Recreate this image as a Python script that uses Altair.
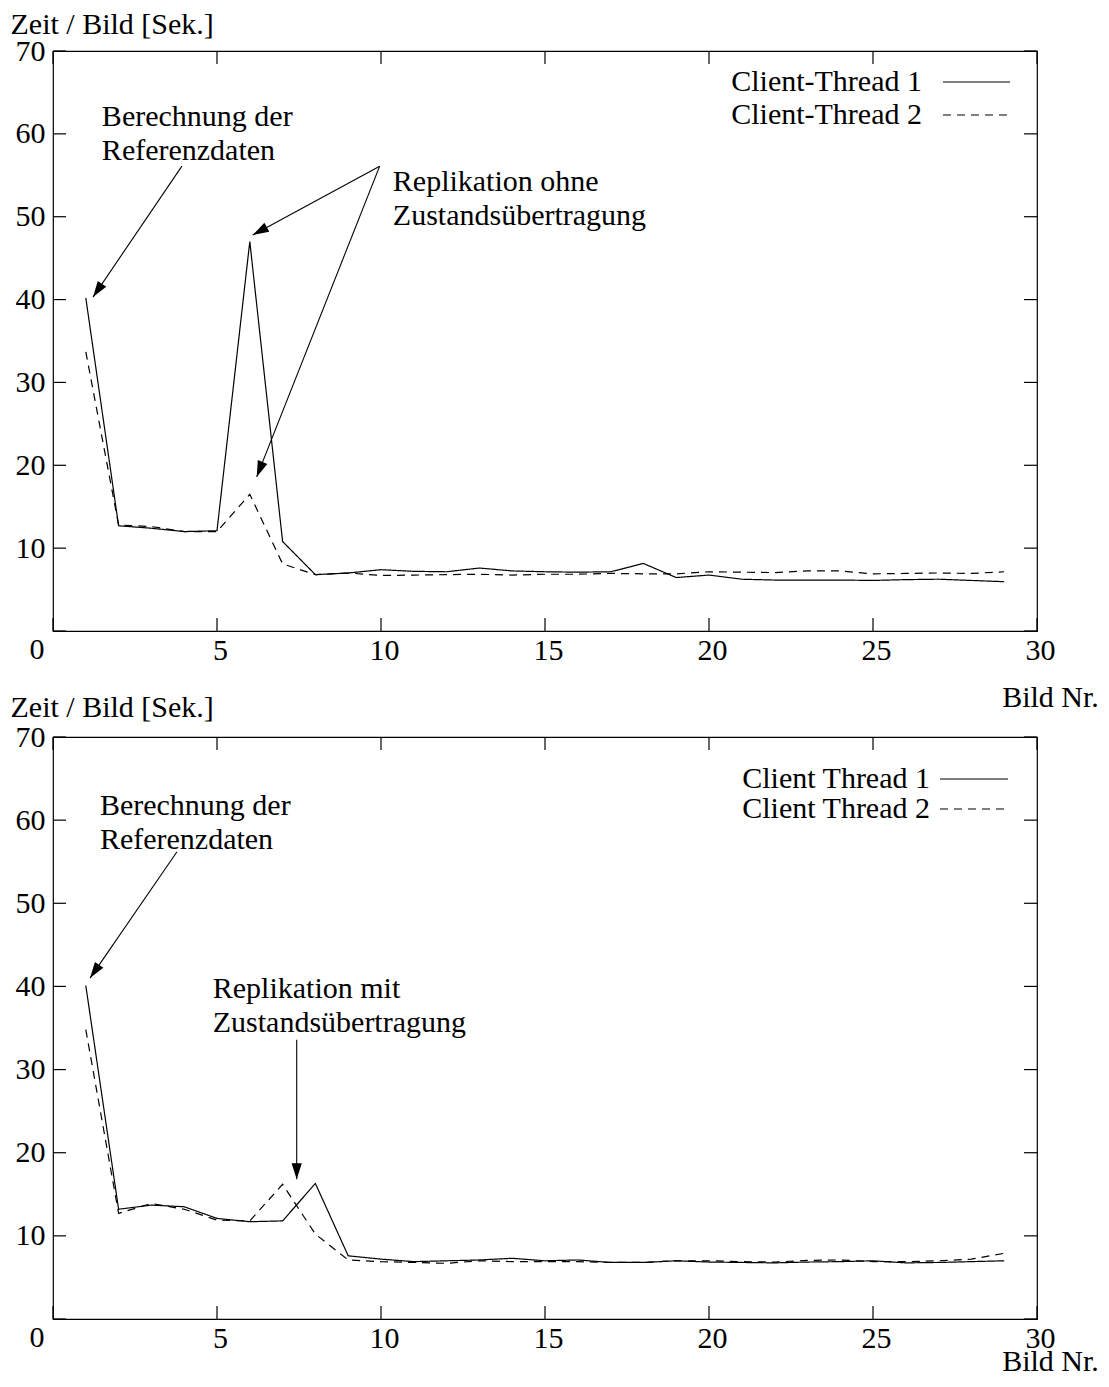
import math
import altair as alt
import pandas as pd

FONT = "Liberation Serif"
FS = 30

frames = list(range(1, 30))

# Top panel (Replikation ohne Zustandsübertragung)
top_names = ["Client-Thread 1", "Client-Thread 2"]
top_t1 = [40.2, 12.7, 12.4, 12.0, 12.1, 47.0, 10.8, 6.8, 7.0, 7.4, 7.2, 7.15, 7.6, 7.25, 7.15,
          7.1, 7.15, 8.15, 6.45, 6.75, 6.25, 6.15, 6.15, 6.15, 6.1, 6.2, 6.25, 6.1, 5.95]
top_t2 = [33.7, 12.8, 12.6, 12.0, 12.0, 16.5, 8.1, 6.8, 7.0, 6.7, 6.75, 6.8, 6.85, 6.75, 6.85,
          6.85, 6.95, 6.9, 6.9, 7.15, 7.1, 7.05, 7.25, 7.25, 6.9, 6.95, 7.0, 6.95, 7.15]
top_texts = ["Berechnung der\nReferenzdaten", "Replikation ohne\nZustandsübertragung"]
top_text_x = [1.49, 10.36]
top_text_y = [60.9, 53.1]
top_arrow_x0 = [3.93, 9.96, 9.96]
top_arrow_y0 = [56.1, 56.1, 56.1]
top_arrow_x1 = [1.22, 6.09, 6.21]
top_arrow_y1 = [40.3, 47.8, 18.6]

# Bottom panel (Replikation mit Zustandsübertragung)
bot_names = ["Client Thread 1", "Client Thread 2"]
bot_t1 = [40.1, 13.2, 13.7, 13.5, 12.1, 11.7, 11.8, 16.3, 7.6, 7.2, 6.9, 7.0, 7.1, 7.3, 7.0,
          7.1, 6.8, 6.8, 7.0, 6.85, 6.8, 6.75, 6.85, 6.9, 7.0, 6.75, 6.8, 6.9, 7.0]
bot_t2 = [34.8, 12.7, 13.9, 13.2, 11.9, 11.8, 16.2, 10.2, 7.1, 6.9, 6.8, 6.7, 7.0, 6.9, 6.9,
          6.9, 6.8, 6.8, 7.0, 7.0, 6.9, 6.85, 7.05, 7.1, 6.9, 6.9, 7.0, 7.2, 7.9]
bot_texts = ["Berechnung der\nReferenzdaten", "Replikation mit\nZustandsübertragung"]
bot_text_x = [1.43, 4.87]
bot_text_y = [60.6, 38.65]
bot_arrow_x0 = [3.78, 7.43]
bot_arrow_y0 = [56.2, 33.6]
bot_arrow_x1 = [1.13, 7.43]
bot_arrow_y1 = [41.0, 16.8]

x_ticks = [0, 5, 10, 15, 20, 25, 30]
y_ticks = [0, 10, 20, 30, 40, 50, 60, 70]
y_labels = [10, 20, 30, 40, 50, 60, 70]
X_MIN, X_MAX = 0, 30
Y_MIN, Y_MAX = 0, 70

W = 984
DASHES = [[1, 0], [8, 6]]
LABEL_PAD = 4


def panel(t1, t2, names, texts, tx, ty, ax0, ay0, ax1, ay1, h, ytitle_y, xtitle_y, leg):
    xs = alt.Scale(domain=[X_MIN, X_MAX], nice=False, zero=False)
    ys = alt.Scale(domain=[Y_MIN, Y_MAX], nice=False, zero=False)
    df = pd.DataFrame({
        "frame": frames + frames,
        "time": t1 + t2,
        "series": [names[0]] * len(frames) + [names[1]] * len(frames),
    })
    xaxis = alt.Axis(
        values=x_ticks, ticks=False, domain=False, grid=False,
        labelFont=FONT, labelFontSize=FS, labelColor="black", labelPadding=LABEL_PAD,
        labelFlush=False, labelOverlap=False, labelBound=False, labelOffset=3,
        labelExpr="datum.value == 0 ? '' : datum.label",
        title="Bild Nr.", titleFont=FONT, titleFontSize=FS, titleFontWeight="normal",
        titleColor="black", titleX=997, titleY=xtitle_y, titleAlign="center",
        titleBaseline="alphabetic", titleAngle=0,
    )
    yaxis = alt.Axis(
        values=y_labels, ticks=False, domain=False, grid=False,
        labelFont=FONT, labelFontSize=FS, labelColor="black", labelPadding=8,
        labelFlush=False, labelOverlap=False, labelBound=False,
        title="Zeit / Bild [Sek.]", titleFont=FONT, titleFontSize=FS, titleFontWeight="normal",
        titleColor="black", titleX=-43, titleY=ytitle_y, titleAlign="left",
        titleBaseline="alphabetic", titleAngle=0,
    )
    lines = alt.Chart(df).mark_line(color="black", strokeWidth=1.2).encode(
        x=alt.X("frame:Q", scale=xs, axis=xaxis),
        y=alt.Y("time:Q", scale=ys, axis=yaxis),
        strokeDash=alt.StrokeDash("series:N", scale=alt.Scale(domain=names, range=DASHES), legend=None),
    )

    # the "0" tick label sits left of the corner, as in the original
    zdf = pd.DataFrame({"v": [x_ticks[0]], "b": [Y_MIN], "label": [str(x_ticks[0])]})
    zero_label = alt.Chart(zdf).mark_text(
        font=FONT, fontSize=FS, color="black", align="center", baseline="top", dx=-16, dy=LABEL_PAD
    ).encode(x=alt.X("v:Q", scale=xs), y=alt.Y("b:Q", scale=ys), text="label:N")

    xt = pd.DataFrame({"t": x_ticks, "lo": [Y_MIN] * len(x_ticks), "hi": [Y_MAX] * len(x_ticks)})
    yt = pd.DataFrame({"t": y_ticks, "lo": [X_MIN] * len(y_ticks), "hi": [X_MAX] * len(y_ticks)})
    tick_bottom = alt.Chart(xt).mark_rule(color="black", strokeWidth=1.2, y2Offset=-13).encode(
        x=alt.X("t:Q", scale=xs), y=alt.Y("lo:Q", scale=ys), y2="lo:Q")
    tick_top = alt.Chart(xt).mark_rule(color="black", strokeWidth=1.2, y2Offset=13).encode(
        x=alt.X("t:Q", scale=xs), y=alt.Y("hi:Q", scale=ys), y2="hi:Q")
    tick_left = alt.Chart(yt).mark_rule(color="black", strokeWidth=1.2, x2Offset=13).encode(
        y=alt.Y("t:Q", scale=ys), x=alt.X("lo:Q", scale=xs), x2="lo:Q")
    tick_right = alt.Chart(yt).mark_rule(color="black", strokeWidth=1.2, x2Offset=-13).encode(
        y=alt.Y("t:Q", scale=ys), x=alt.X("hi:Q", scale=xs), x2="hi:Q")

    tdf = pd.DataFrame({"label": texts, "x": tx, "y": ty})
    ann = alt.Chart(tdf).mark_text(
        align="left", baseline="alphabetic", font=FONT, fontSize=FS, lineBreak="\n",
        lineHeight=34, color="black"
    ).encode(x=alt.X("x:Q", scale=xs), y=alt.Y("y:Q", scale=ys), text="label:N")

    px = W / (X_MAX - X_MIN)
    py = h / (Y_MAX - Y_MIN)
    angles = []
    for a, b, c, d in zip(ax0, ay0, ax1, ay1):
        dx = (c - a) * px
        dy = -(d - b) * py
        angles.append(math.degrees(math.atan2(dx, -dy)) % 360)
    adf = pd.DataFrame({"x0": ax0, "y0": ay0, "x1": ax1, "y1": ay1, "ang": angles})
    arrows = alt.Chart(adf).mark_rule(color="black", strokeWidth=1.1).encode(
        x=alt.X("x0:Q", scale=xs), y=alt.Y("y0:Q", scale=ys),
        x2="x1:Q", y2="y1:Q")
    heads = alt.Chart(adf).mark_point(
        shape="M0,0L-0.32,1L0.32,1Z", filled=True, color="black", opacity=1, size=1024
    ).encode(
        x=alt.X("x1:Q", scale=xs), y=alt.Y("y1:Q", scale=ys),
        angle=alt.Angle("ang:Q", scale=None),
    )

    layers = [lines, zero_label, tick_bottom, tick_top, tick_left, tick_right, ann, arrows, heads]
    text_right, sx0, sx1, rows = leg
    for name, dash, ry in zip(names, DASHES, rows):
        ldf = pd.DataFrame({"series": [name]})
        layers.append(alt.Chart(ldf).mark_text(
            align="right", baseline="middle", font=FONT, fontSize=FS, color="black"
        ).encode(text="series:N", x=alt.value(text_right), y=alt.value(ry)))
        layers.append(alt.Chart(ldf).mark_rule(color="black", strokeWidth=1.2, strokeDash=dash).encode(
            x=alt.value(sx0), x2=alt.value(sx1), y=alt.value(ry)))

    return alt.layer(*layers).properties(width=W, height=h)


top = panel(top_t1, top_t2, top_names, top_texts, top_text_x, top_text_y,
            top_arrow_x0, top_arrow_y0, top_arrow_x1, top_arrow_y1,
            580, -18, 75, (869, 890, 957, [31, 64]))
bottom = panel(bot_t1, bot_t2, bot_names, bot_texts, bot_text_x, bot_text_y,
               bot_arrow_x0, bot_arrow_y0, bot_arrow_x1, bot_arrow_y1,
               582, -21, 51, (877, 887, 955, [42, 72]))

chart = alt.vconcat(top, bottom, spacing=106, bounds="flush").properties(
    padding={"left": 1, "top": 0, "right": 0, "bottom": 0}
).configure(
    font=FONT, background="white",
    view=alt.ViewConfig(stroke="black", strokeWidth=1.2),
)

chart.save("out.html", embed_options={"renderer": "svg", "actions": False})
